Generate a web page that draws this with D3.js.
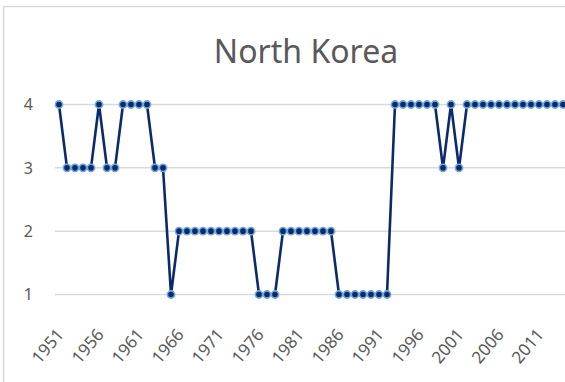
<!DOCTYPE html>
<html>
<head>
<meta charset="utf-8">
<script src="https://cdn.jsdelivr.net/npm/d3@7"></script>
<style>
  body { margin: 0; background: #fff; }
  svg { display: block; font-family: "Noto Sans", "Open Sans", sans-serif; }
</style>
</head>
<body>
<div id="chart"></div>
<script>
// years on the category axis
var years = d3.range(1951, 2015);
// one value per year
var values = [4, 3, 3, 3, 3, 4, 3, 3, 4, 4, 4, 4, 3, 3, 1,
  2, 2, 2, 2, 2, 2, 2, 2, 2, 2,
  1, 1, 1,
  2, 2, 2, 2, 2, 2, 2,
  1, 1, 1, 1, 1, 1, 1,
  4, 4, 4, 4, 4, 4, 3, 4, 3,
  4, 4, 4, 4, 4, 4, 4, 4, 4, 4, 4, 4, 4];
var yTicks = [1, 2, 3, 4];
var tickYears = d3.range(1951, 2015, 5);
var title = "North Korea";

var width = 565, height = 382;

var data = years.map(function(y, i) { return {year: y, value: values[i]}; });

var svg = d3.select("#chart").append("svg")
  .attr("width", width)
  .attr("height", height);

// chart frame
svg.append("rect")
  .attr("x", 3.5).attr("y", 6.5)
  .attr("width", width + 20).attr("height", height + 20)
  .attr("fill", "none")
  .attr("stroke", "#d9d9d9")
  .attr("stroke-width", 1.5);

var x = d3.scaleBand().domain(years).range([55, 567]).padding(0);
var y = d3.scaleLinear().domain([1, 4]).range([294.5, 104.5]);

function cx(d) { return x(d) + x.bandwidth() / 2; }

// gridlines
svg.append("g")
  .selectAll("line")
  .data(yTicks)
  .enter().append("line")
    .attr("x1", 55).attr("x2", 567)
    .attr("y1", function(d) { return y(d); })
    .attr("y2", function(d) { return y(d); })
    .attr("stroke", "#d9d9d9")
    .attr("stroke-width", 1.5);

// y labels
svg.append("g")
  .selectAll("text")
  .data(yTicks)
  .enter().append("text")
    .attr("x", 33)
    .attr("y", function(d) { return y(d); })
    .attr("dy", "0.36em")
    .attr("text-anchor", "end")
    .attr("fill", "#595959")
    .attr("font-size", 16)
    .text(function(d) { return d; });

// x labels, rotated
svg.append("g")
  .selectAll("text")
  .data(tickYears)
  .enter().append("text")
    .attr("transform", function(d) { return "translate(" + (cx(d) + 1) + ",331) rotate(-50)"; })
    .attr("text-anchor", "end")
    .attr("dy", "0.36em")
    .attr("fill", "#595959")
    .attr("font-size", 17)
    .text(function(d) { return d; });

// title
svg.append("text")
  .attr("x", 306)
  .attr("y", 62.5)
  .attr("text-anchor", "middle")
  .attr("fill", "#595959")
  .attr("font-size", 32)
  .text(title);

var line = d3.line()
  .x(function(d) { return cx(d.year); })
  .y(function(d) { return y(d.value); });

svg.append("path")
  .datum(data)
  .attr("d", line)
  .attr("fill", "none")
  .attr("stroke", "#0c2a6b")
  .attr("stroke-width", 2.6)
  .attr("stroke-linejoin", "round");

svg.append("g")
  .selectAll("circle")
  .data(data)
  .enter().append("circle")
    .attr("cx", function(d) { return cx(d.year); })
    .attr("cy", function(d) { return y(d.value); })
    .attr("r", 3.6)
    .attr("fill", "#0c2a6b")
    .attr("stroke", "#6fa8dc")
    .attr("stroke-width", 1.6);
</script>
</body>
</html>
